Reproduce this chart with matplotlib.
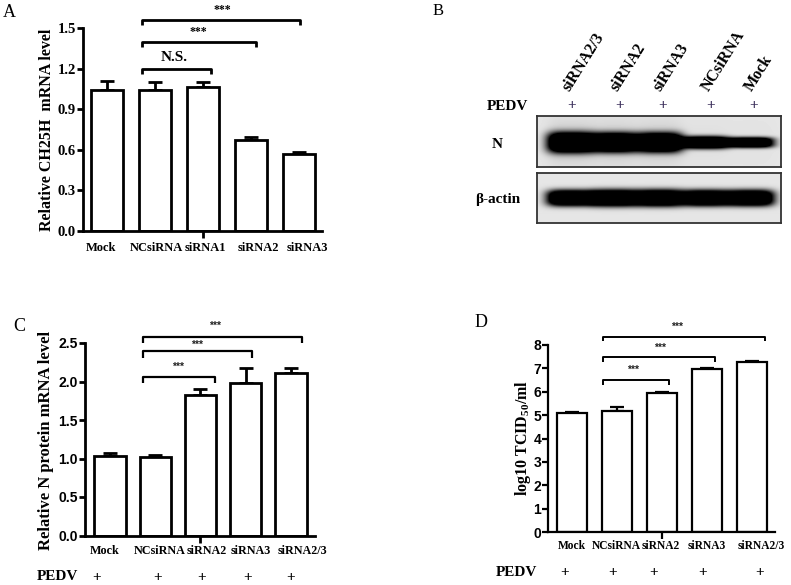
import numpy as np
import matplotlib
matplotlib.use("Agg")
from matplotlib import pyplot as plt
from matplotlib.transforms import blended_transform_factory

plt.rcParams['font.family'] = ['Liberation Serif', 'DejaVu Serif']
plt.rcParams['mathtext.default'] = 'regular'

# ---- data ----
a_labels = ["Mock", "NCsiRNA", "siRNA1", "siRNA2", "siRNA3"]
a_values = [1.04, 1.04, 1.06, 0.67, 0.57]
a_errors = [0.065, 0.06, 0.04, 0.025, 0.01]

blot_lanes = ["siRNA2/3", "siRNA2", "siRNA3", "NCsiRNA", "Mock"]
n_band = [1.0, 0.95, 0.95, 0.6, 0.5]         # relative N band strength
actin_band = [1.0, 1.05, 1.05, 1.0, 1.0]     # relative beta-actin band strength

c_labels = ["Mock", "NCsiRNA", "siRNA2", "siRNA3", "siRNA2/3"]
c_values = [1.035, 1.02, 1.83, 1.98, 2.11]
c_errors = [0.03, 0.02, 0.07, 0.19, 0.07]

d_labels = ["Mock", "NCsiRNA", "siRNA2", "siRNA3", "siRNA2/3"]
d_values = [5.1, 5.18, 5.94, 6.96, 7.29]
d_errors = [0.05, 0.17, 0.05, 0.04, 0.04]

W, H = 791, 585
fig = plt.figure(figsize=(W / 100, H / 100), dpi=100)

def box(x0, y0, x1, y1):
    # pixel box -> figure fraction rect
    return [x0 / W, 1 - y1 / H, (x1 - x0) / W, (y1 - y0) / H]

def ftext(x, y, s, **kw):
    fig.text(x / W, 1 - y / H, s, **kw)

def bracket(ax, x1, x2, y, h, lw):
    ax.plot([x1, x1, x2, x2], [y - h, y, y, y - h], color='black', lw=lw,
            clip_on=False, solid_capstyle='butt')

def bar_panel(ax, labels, label_x, values, errors, lw, width, tickfont, ticksize, labsize, pad):
    x = np.arange(len(values))
    ax.bar(x, values, width=width, color='white', edgecolor='black', linewidth=lw, zorder=2)
    ax.errorbar(x, values, yerr=[np.zeros(len(errors)), errors], fmt='none',
                ecolor='black', elinewidth=lw, capsize=5.3, capthick=lw, zorder=1)
    for s in ['top', 'right']:
        ax.spines[s].set_visible(False)
    for s in ['left', 'bottom']:
        ax.spines[s].set_linewidth(lw)
    # category names sit a little off the bar centres, as in the original
    ax.set_xticks(label_x)
    ax.set_xticklabels(labels, fontsize=labsize, fontweight='bold', family='Liberation Serif')
    ax.tick_params(axis='x', length=0, pad=pad)
    ax.set_xticks([2], minor=True)
    ax.tick_params(axis='x', which='minor', length=5, width=lw)
    ax.tick_params(axis='y', length=4, width=lw, pad=1)
    for t in ax.get_yticklabels():
        t.set_family(tickfont)
        t.set_fontweight('bold')
        t.set_fontsize(ticksize)

# ---- panel A ----
axA = fig.add_axes(box(83, 28, 322, 230.7))
axA.set_xlim(-0.5, 4.48)
axA.set_ylim(0, 1.5)
axA.set_yticks(np.arange(0, 1.51, 0.3))
axA.set_yticklabels(["%.1f" % v for v in np.arange(0, 1.51, 0.3)])
bar_panel(axA, a_labels, [-0.12, 1.03, 2.04, 3.15, 4.17], a_values, a_errors,
          2.0, 0.67, 'Liberation Serif', 10.5, 9, 8)
bracket(axA, 0.73, 2.17, 1.20, 0.04, 2)
bracket(axA, 0.73, 3.10, 1.40, 0.04, 2)
bracket(axA, 0.73, 4.02, 1.56, 0.04, 2)
axA.text(1.4, 1.28, "N.S.", ha='center', va='center', fontsize=11, fontweight='bold')
axA.text(1.9, 1.47, "***", ha='center', va='center', fontsize=8.5, fontweight='bold')
axA.text(2.4, 1.63, "***", ha='center', va='center', fontsize=8.5, fontweight='bold')
ftext(47, 130, "Relative CH25H  mRNA level", rotation=90, ha='center', va='center',
      fontsize=11.5, fontweight='bold')
ftext(3, 17, "A", fontsize=13)

# ---- panel B (western blot) ----
lane_x = [33, 77, 122, 168, 213]
def blot_image(strength, half_h, half_w, yc, height, smear):
    yy, xx = np.mgrid[0:height, 0:244]
    img = np.full((height, 244), 0.9)
    dark = np.zeros((height, 244))
    for cx, s in zip(lane_x, strength):
        prof_x = np.exp(-(np.abs(xx - cx) / half_w) ** 4)
        prof_y = np.exp(-(np.abs(yy - yc) / (half_h * s)) ** 3)
        dark += prof_x * prof_y
        img -= smear * s ** 3 * prof_x * np.exp(-(np.abs(yy - yc) / 22) ** 2)
    img -= 0.92 * np.clip(dark * 1.8, 0, 1)
    return np.clip(img, 0, 1)

axN = fig.add_axes(box(537, 116, 781, 167))
axN.imshow(blot_image(n_band, 10.5, 23.5, 26, 51, 0.12), cmap='gray', vmin=0, vmax=1,
           aspect='auto', interpolation='bilinear')
axAct = fig.add_axes(box(537, 173, 781, 223))
axAct.imshow(blot_image(actin_band, 8, 24, 25, 50, 0.0), cmap='gray', vmin=0, vmax=1,
             aspect='auto', interpolation='bilinear')
for ax in (axN, axAct):
    ax.set_xticks([])
    ax.set_yticks([])
    for s in ax.spines.values():
        s.set_linewidth(1.3)
        s.set_color('#333333')

plus_b = [572, 620, 663, 711, 754]
for px_, name in zip(plus_b, blot_lanes):
    ftext(px_, 106, "+", ha='center', va='center', fontsize=11, fontweight='bold', color='#3b2f5b')
    ftext(px_ + 1, 94, name, rotation=58, rotation_mode='anchor', ha='left', va='bottom',
          fontsize=11.5, fontweight='bold')
ftext(507, 106, "PEDV", ha='center', va='center', fontsize=11, fontweight='bold')
ftext(497, 145, "N", ha='center', va='center', fontsize=11, fontweight='bold')
ftext(498, 199, "\u03b2-actin", ha='center', va='center', fontsize=11, fontweight='bold')
ftext(433, 15, "B", fontsize=12)

# ---- panel C ----
axC = fig.add_axes(box(85, 343, 315, 535.5))
axC.set_xlim(-0.55, 4.53)
axC.set_ylim(0, 2.5)
axC.set_yticks(np.arange(0, 2.51, 0.5))
axC.set_yticklabels(["%.1f" % v for v in np.arange(0, 2.51, 0.5)])
bar_panel(axC, c_labels, [-0.11, 1.1, 2.15, 3.12, 4.25], c_values, c_errors,
          2.0, 0.69, 'Liberation Sans', 10, 8.7, 7)
bracket(axC, 0.73, 2.32, 2.06, 0.08, 1.6)
bracket(axC, 0.73, 3.14, 2.39, 0.08, 1.6)
bracket(axC, 0.73, 4.25, 2.58, 0.08, 1.6)
for sx, sy in [(1.5, 2.19), (1.92, 2.47), (2.32, 2.72)]:
    axC.text(sx, sy, "***", ha='center', va='center', fontsize=7.5, fontweight='bold',
             family='Liberation Sans', color='#222222')
tC = blended_transform_factory(axC.transData, axC.transAxes)
for px_ in [-0.3, 1.06, 2.03, 3.03, 3.98]:
    axC.text(px_, -0.216, "+", transform=tC, ha='center', va='center', fontsize=11,
             fontweight='bold', clip_on=False)
ftext(57, 577, "PEDV", ha='center', va='center', fontsize=11, fontweight='bold')
ftext(46, 440, "Relative N protein mRNA level", rotation=90, ha='center', va='center',
      fontsize=12, fontweight='bold')
ftext(13, 331, "C", fontsize=13)

# ---- panel D ----
axD = fig.add_axes(box(548, 345, 775, 532))
axD.set_xlim(-0.53, 4.51)
axD.set_ylim(0, 8)
axD.set_yticks(range(0, 9))
bar_panel(axD, d_labels, [0.0, 0.99, 1.98, 3.0, 4.2], d_values, d_errors,
          1.6, 0.67, 'Liberation Sans', 10, 8.3, 6)
bracket(axD, 0.69, 2.16, 6.50, 0.21, 1.4)
bracket(axD, 0.69, 3.18, 7.47, 0.21, 1.4)
bracket(axD, 0.69, 4.29, 8.36, 0.21, 1.4)
for sx, sy in [(1.36, 6.92), (1.96, 7.86), (2.33, 8.76)]:
    axD.text(sx, sy, "***", ha='center', va='center', fontsize=7.5, fontweight='bold',
             family='Liberation Sans', color='#222222', clip_on=False)
tD = blended_transform_factory(axD.transData, axD.transAxes)
for px_ in [-0.16, 0.91, 1.82, 2.91, 4.16]:
    axD.text(px_, -0.219, "+", transform=tD, ha='center', va='center', fontsize=11,
             fontweight='bold', clip_on=False)
ftext(516, 573, "PEDV", ha='center', va='center', fontsize=11, fontweight='bold')
ftext(523, 438, "log10 TCID$_{50}$/ml", rotation=90, ha='center', va='center',
      fontsize=11.5, fontweight='bold')
ftext(475, 327, "D", fontsize=13)

fig.savefig("out.png", dpi=100)
